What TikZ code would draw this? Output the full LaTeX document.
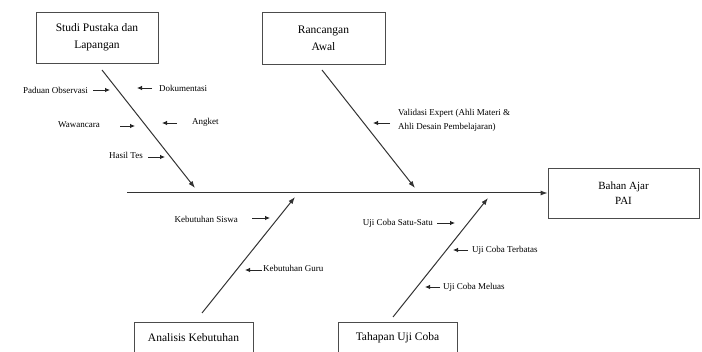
\documentclass[tikz,border=0pt]{standalone}
\usepackage{fontspec}
\setmainfont{Liberation Serif}
\usetikzlibrary{arrows.meta}
\begin{document}
\begin{tikzpicture}[x=1pt,y=-1pt,
  box/.style={draw=black!70, line width=0.8pt, align=center, inner sep=0pt,
    font=\fontsize{11.5}{17}\selectfont},
  lbl/.style={font=\fontsize{9}{14}\selectfont, inner sep=0pt, align=left},
  bone/.style={draw=black!80, line width=1pt, -{Latex[length=7pt,width=5pt]}},
  sarr/.style={draw=black!85, line width=0.8pt, -{Latex[length=5pt,width=4.5pt]}}]
\clip (0,0) rectangle (702,352);
\path[use as bounding box] (0,0) rectangle (702,352);
% boxes
\node[box, minimum width=122pt, minimum height=51pt] (studi) at (97,37.5) {Studi Pustaka dan\\Lapangan};
\node[box, minimum width=123pt, minimum height=52pt] (ranc) at (323.5,38) {Rancangan\\Awal};
\node[box, minimum width=151pt, minimum height=50pt, font=\fontsize{11}{15}\selectfont] (bahan) at (623.5,193) {Bahan Ajar\\PAI};
\node[box, minimum width=119pt, minimum height=32pt] (anal) at (193.5,338) {Analisis Kebutuhan};
\node[box, minimum width=119pt, minimum height=32pt] (taha) at (397.5,338) {Tahapan Uji Coba};
% spine
\coordinate (s0) at (127,193);
\draw[bone] (s0) -- (bahan.west);
% bones
\coordinate (b1s) at (102,70);  \coordinate (b1e) at (195,188);
\coordinate (b2s) at (322,70);  \coordinate (b2e) at (415,188);
\coordinate (b3s) at (202,313); \coordinate (b3e) at (295,197);
\coordinate (b4s) at (393,317); \coordinate (b4e) at (488,198);
\draw[bone] (b1s) -- (b1e);
\draw[bone] (b2s) -- (b2e);
\draw[bone] (b3s) -- (b3e);
\draw[bone] (b4s) -- (b4e);
% labels
\node[lbl, anchor=east] (l1) at (88,90) {Paduan Observasi};
\node[lbl, anchor=west] (l2) at (159,88) {Dokumentasi};
\node[lbl, anchor=east] (l3) at (100,125) {Wawancara};
\node[lbl, anchor=west] (l4) at (192,122) {Angket};
\node[lbl, anchor=east] (l5) at (143,155) {Hasil Tes};
\node[lbl, anchor=west] (l6) at (398,120) {Validasi Expert (Ahli Materi \&\\Ahli Desain Pembelajaran)};
\node[lbl, anchor=east] (l7) at (238,219) {Kebutuhan Siswa};
\node[lbl, anchor=west] (l8) at (263,268) {Kebutuhan Guru};
\node[lbl, anchor=east] (l9) at (433,223) {Uji Coba Satu-Satu};
\node[lbl, anchor=west] (l10) at (472,250) {Uji Coba Terbatas};
\node[lbl, anchor=west] (l11) at (443,287) {Uji Coba Meluas};
% small arrows
\coordinate (a1s) at (93,90);   \coordinate (a1e) at (110,90);
\coordinate (a2s) at (152,88);  \coordinate (a2e) at (137,88);
\coordinate (a3s) at (120,126); \coordinate (a3e) at (135,126);
\coordinate (a4s) at (177,123); \coordinate (a4e) at (162,123);
\coordinate (a5s) at (148,157); \coordinate (a5e) at (165,157);
\coordinate (a6s) at (390,123); \coordinate (a6e) at (373,123);
\coordinate (a7s) at (252,218); \coordinate (a7e) at (270,218);
\coordinate (a8s) at (262,270); \coordinate (a8e) at (245,270);
\coordinate (a9s) at (437,223); \coordinate (a9e) at (455,223);
\coordinate (a10s) at (468,250); \coordinate (a10e) at (453,250);
\coordinate (a11s) at (440,287); \coordinate (a11e) at (425,287);
\foreach \i in {1,...,11} {\draw[sarr] (a\i s) -- (a\i e);}
\end{tikzpicture}
\end{document}
